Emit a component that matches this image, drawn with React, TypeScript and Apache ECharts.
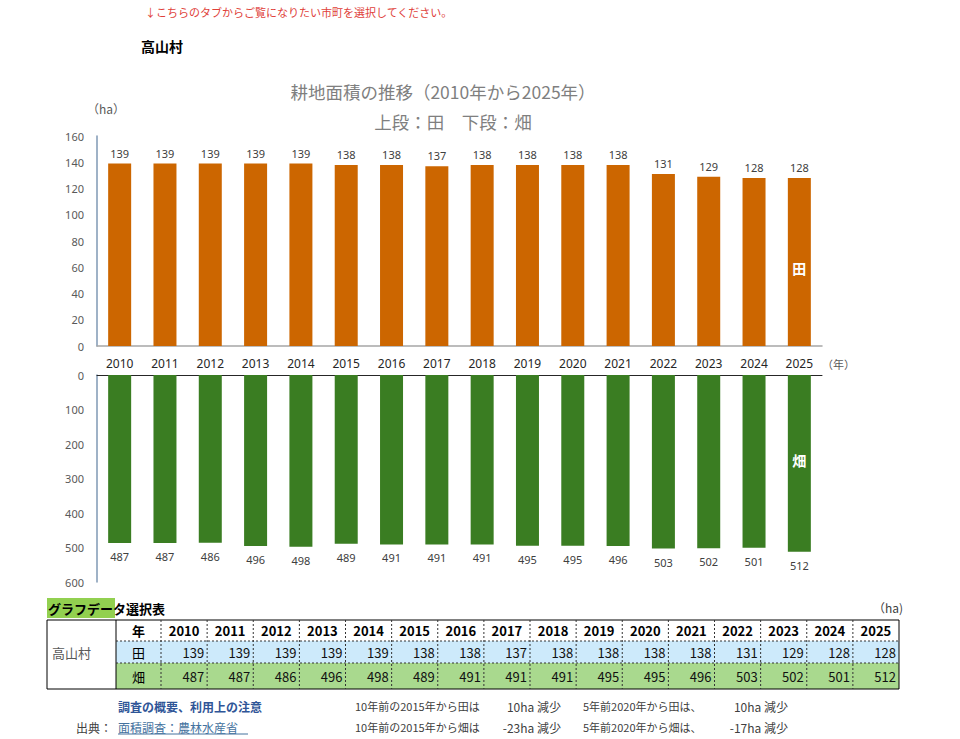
import React, { useEffect, useRef } from "react";
import * as echarts from "echarts";

const years = ["2010","2011","2012","2013","2014","2015","2016","2017","2018","2019","2020","2021","2022","2023","2024","2025"];
const paddy = [139,139,139,139,139,138,138,137,138,138,138,138,131,129,128,128];
const upland = [487,487,486,496,498,489,491,491,491,495,495,496,503,502,501,512];
const village = "高山村";
const titleLine1 = "耕地面積の推移（2010年から2025年）";
const titleLine2 = "上段：田　下段：畑";
const noticeText = "↓こちらのタブからご覧になりたい市町を選択してください。";

const JP = '"Noto Sans CJK JP", "Noto Sans", sans-serif';

export default function App() {
  const ref = useRef<HTMLDivElement>(null);
  useEffect(() => {
    document.body.style.margin = "0";
    const chart = echarts.init(ref.current!, null, { renderer: "svg" });
    const n = years.length;
    const i2015 = years.indexOf("2015");
    const i2020 = years.indexOf("2020");
    const last = n - 1;
    const dPaddy10 = paddy[i2015] - paddy[last];
    const dUpland10 = upland[i2015] - upland[last];
    const dPaddy5 = paddy[i2020] - paddy[last];
    const dUpland5 = upland[i2020] - upland[last];

    const graphics: any[] = [];
    const txt = (x: number, y: number, text: string, style: any = {}) =>
      graphics.push({
        type: "text",
        x,
        y,
        silent: true,
        style: { text, fontFamily: JP, fontSize: 12, fill: "#404040", verticalAlign: "middle", ...style },
      });

    txt(145, 12, noticeText, { fill: "#e0413a", fontSize: 11 });
    txt(141, 46, village, { fill: "#000", fontSize: 14, fontWeight: "bold" });
    txt(443, 91, titleLine1, { fill: "#7f7f7f", fontSize: 17.5, align: "center" });
    txt(453, 121, titleLine2, { fill: "#7f7f7f", fontSize: 17.5, align: "center" });
    txt(87, 108, "（ha）", { fill: "#595959", fontSize: 12 });
    txt(822, 364, "（年）", { fill: "#595959", fontSize: 11 });

    // table
    const tL = 47, tC1 = 116, tC2 = 161, tR = 899;
    const rY = [620, 641, 663, 689];
    const colW = (tR - tC2) / n;
    graphics.push({ type: "rect", shape: { x: 47, y: 598, width: 68, height: 20 }, style: { fill: "#92d050" } });
    txt(48, 608, "グラフデータ選択表", { fill: "#000", fontSize: 13, fontWeight: "bold" });
    txt(873, 607, "（ha)", { fill: "#404040", fontSize: 12 });
    graphics.push({ type: "rect", shape: { x: tC1, y: rY[1], width: tR - tC1, height: rY[2] - rY[1] }, style: { fill: "#cdeafb" } });
    graphics.push({ type: "rect", shape: { x: tC1, y: rY[2], width: tR - tC1, height: rY[3] - rY[2] }, style: { fill: "#a9d98e" } });
    graphics.push({ type: "rect", shape: { x: tL, y: rY[0], width: tR - tL, height: rY[3] - rY[0] }, style: { fill: "none", stroke: "#000", lineWidth: 1 } });
    graphics.push({ type: "line", shape: { x1: tC1, y1: rY[0], x2: tC1, y2: rY[3] }, style: { stroke: "#000", lineWidth: 1 } });
    [rY[1], rY[2]].forEach((y) =>
      graphics.push({ type: "line", shape: { x1: tC1, y1: y, x2: tR, y2: y }, style: { stroke: "#333", lineWidth: 1, lineDash: [2, 2] } })
    );
    for (let i = 0; i < n; i++) {
      const x = tC2 + i * colW;
      graphics.push({ type: "line", shape: { x1: x, y1: rY[0], x2: x, y2: rY[3] }, style: { stroke: "#333", lineWidth: 1, lineDash: [2, 2] } });
      txt(x + colW / 2, (rY[0] + rY[1]) / 2, years[i], { fill: "#000", fontSize: 13, fontWeight: "bold", align: "center" });
      txt(x + colW - 3, (rY[1] + rY[2]) / 2, String(paddy[i]), { fill: "#111", fontSize: 13, align: "right" });
      txt(x + colW - 3, (rY[2] + rY[3]) / 2, String(upland[i]), { fill: "#111", fontSize: 13, align: "right" });
    }
    txt(52, 652, village, { fill: "#595959", fontSize: 13 });
    txt((tC1 + tC2) / 2, (rY[0] + rY[1]) / 2, "年", { fill: "#000", fontSize: 13, fontWeight: "bold", align: "center" });
    txt((tC1 + tC2) / 2, (rY[1] + rY[2]) / 2, "田", { fill: "#000", fontSize: 13, align: "center" });
    txt((tC1 + tC2) / 2, (rY[2] + rY[3]) / 2, "畑", { fill: "#000", fontSize: 13, align: "center" });

    // footer
    txt(118, 706, "調査の概要、利用上の注意", { fill: "#2f5597", fontSize: 12, fontWeight: "bold" });
    txt(76, 727, "出典：", { fill: "#404040", fontSize: 12 });
    txt(118, 727, "面積調査：農林水産省", { fill: "#44729e", fontSize: 12 });
    graphics.push({ type: "line", shape: { x1: 118, y1: 734, x2: 248, y2: 734 }, style: { stroke: "#44729e", lineWidth: 1 } });
    txt(355, 706, `10年前の${years[i2015]}年から田は`, { fontSize: 11 });
    txt(561, 706, `${dPaddy10}ha 減少`, { fontSize: 12, align: "right" });
    txt(583, 706, `5年前${years[i2020]}年から田は、`, { fontSize: 11 });
    txt(788, 706, `${dPaddy5}ha 減少`, { fontSize: 12, align: "right" });
    txt(355, 727, `10年前の${years[i2015]}年から畑は`, { fontSize: 11 });
    txt(561, 727, `${dUpland10}ha 減少`, { fontSize: 12, align: "right" });
    txt(583, 727, `5年前${years[i2020]}年から畑は、`, { fontSize: 11 });
    txt(788, 727, `${dUpland5}ha 減少`, { fontSize: 12, align: "right" });

    const lastOnly = (arr: number[]) => arr.map((v, i) => (i === last ? v : null));

    chart.setOption({
      animation: false,
      textStyle: { fontFamily: JP },
      grid: [
        { left: 97, width: 725, top: 136, height: 210 },
        { left: 97, width: 725, top: 375, height: 207 },
      ],
      xAxis: [
        {
          type: "category",
          gridIndex: 0,
          data: years,
          axisTick: { show: false },
          axisLine: { lineStyle: { color: "#a6a6a6", width: 1.5 } },
          axisLabel: { color: "#262626", fontSize: 12, margin: 11, fontFamily: '"Noto Sans", sans-serif' },
        },
        {
          type: "category",
          gridIndex: 1,
          data: years,
          position: "top",
          axisTick: { show: false },
          axisLine: { lineStyle: { color: "#262626", width: 1 } },
          axisLabel: { show: false },
        },
      ],
      yAxis: [
        {
          type: "value",
          gridIndex: 0,
          min: 0,
          max: 160,
          interval: 20,
          splitLine: { show: false },
          axisLine: { show: true, lineStyle: { color: "#7f98b5", width: 1.5 } },
          axisLabel: { color: "#595959", fontSize: 11, margin: 13, fontFamily: '"Noto Sans", sans-serif' },
        },
        {
          type: "value",
          gridIndex: 1,
          min: 0,
          max: 600,
          interval: 100,
          inverse: true,
          splitLine: { show: false },
          axisLine: { show: true, lineStyle: { color: "#7f98b5", width: 1.5 } },
          axisLabel: { color: "#595959", fontSize: 11, margin: 13, fontFamily: '"Noto Sans", sans-serif' },
        },
      ],
      series: [
        {
          type: "bar",
          xAxisIndex: 0,
          yAxisIndex: 0,
          data: paddy,
          barWidth: 23,
          itemStyle: { color: "#cc6600" },
          label: { show: true, position: "top", distance: 5, color: "#404040", fontSize: 11, fontFamily: '"Noto Sans", sans-serif' },
        },
        {
          type: "bar",
          xAxisIndex: 0,
          yAxisIndex: 0,
          data: lastOnly(paddy),
          barWidth: 23,
          barGap: "-100%",
          itemStyle: { color: "transparent" },
          label: { show: true, position: "inside", offset: [0, 6], formatter: "田", color: "#fff", fontSize: 14, fontWeight: "bold" },
        },
        {
          type: "bar",
          xAxisIndex: 1,
          yAxisIndex: 1,
          data: upland,
          barWidth: 23,
          itemStyle: { color: "#3a7d22" },
          label: { show: true, position: "bottom", distance: 8, color: "#404040", fontSize: 11, fontFamily: '"Noto Sans", sans-serif' },
        },
        {
          type: "bar",
          xAxisIndex: 1,
          yAxisIndex: 1,
          data: lastOnly(upland),
          barWidth: 23,
          barGap: "-100%",
          itemStyle: { color: "transparent" },
          label: { show: true, position: "inside", offset: [0, -3], formatter: "畑", color: "#fff", fontSize: 14, fontWeight: "bold" },
        },
      ],
      graphic: graphics,
    });
    return () => chart.dispose();
  }, []);
  return <div ref={ref} style={{ position: "absolute", left: 0, top: 0, width: 960, height: 739 }} />;
}
